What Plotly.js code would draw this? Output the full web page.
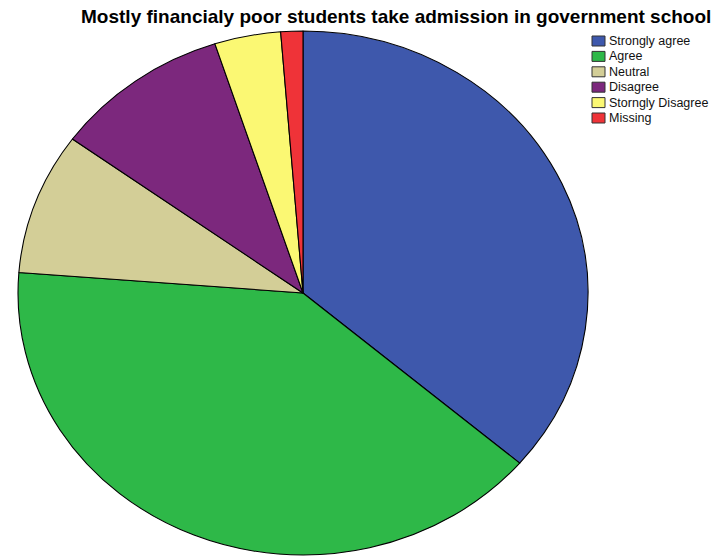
<!DOCTYPE html>
<html>
<head>
<meta charset="utf-8">
<script src="https://cdn.plot.ly/plotly-3.0.1.min.js"></script>
<style>html,body{margin:0;padding:0;background:#fff;}#chart{width:723px;height:556px;}</style>
</head>
<body>
<div id="chart"></div>
<script>
const categories = ["Strongly agree", "Agree", "Neutral", "Disagree", "Storngly Disagree", "Missing"];
const counts = [29, 32, 7, 8, 3, 1];
const colors = ["#3E58AC", "#2EB848", "#D3CE97", "#7C287D", "#FBF873", "#EF3338"];
const chartTitle = "Mostly financialy poor students take admission in government school";

const W = 723, H = 556;
const cx = 303, cy = 293, ry = 262, rx = 285;

const trace = {
  type: "pie",
  labels: categories,
  values: counts,
  sort: false,
  direction: "clockwise",
  rotation: 0,
  textinfo: "none",
  hoverinfo: "label+value",
  showlegend: false,
  marker: { colors: colors, line: { color: "#000", width: 1 } },
  domain: { x: [(cx - ry) / W, (cx + ry) / W], y: [(H - (cy + ry)) / H, (H - (cy - ry)) / H] }
};

// legend built from the category / colour arrays
const legX = 592, legY0 = 41, legStep = 15.4, swW = 13, swH = 10;
const shapes = [], annotations = [];
categories.forEach(function (c, i) {
  const yc = legY0 + i * legStep;
  shapes.push({
    type: "rect", xref: "paper", yref: "paper",
    x0: legX / W, x1: (legX + swW) / W,
    y0: 1 - (yc + swH / 2) / H, y1: 1 - (yc - swH / 2) / H,
    fillcolor: colors[i], line: { color: "#333", width: 1 }
  });
  annotations.push({
    xref: "paper", yref: "paper", x: (legX + swW + 2) / W, y: 1 - yc / H,
    xanchor: "left", yanchor: "middle", showarrow: false, text: c,
    font: { family: "Liberation Sans, Arial, sans-serif", size: 12.5, color: "#111" }
  });
});

const layout = {
  width: W, height: H,
  margin: { l: 0, r: 0, t: 0, b: 0 },
  paper_bgcolor: "#fff",
  title: {
    text: "<b>" + chartTitle + "</b>",
    font: { family: "Liberation Sans, Arial, sans-serif", size: 19, color: "#000" },
    x: 0.548, xanchor: "center", y: 0.970, yanchor: "middle"
  },
  showlegend: false,
  shapes: shapes,
  annotations: annotations
};

Plotly.newPlot("chart", [trace], layout, { staticPlot: true }).then(function () {
  const g = document.querySelector("#chart .pielayer");
  if (g) {
    const sx = rx / ry;
    g.setAttribute("transform", "translate(" + cx + "," + cy + ") scale(" + sx + ",1) translate(" + (-cx) + "," + (-cy) + ")");
  }
});
</script>
</body>
</html>
